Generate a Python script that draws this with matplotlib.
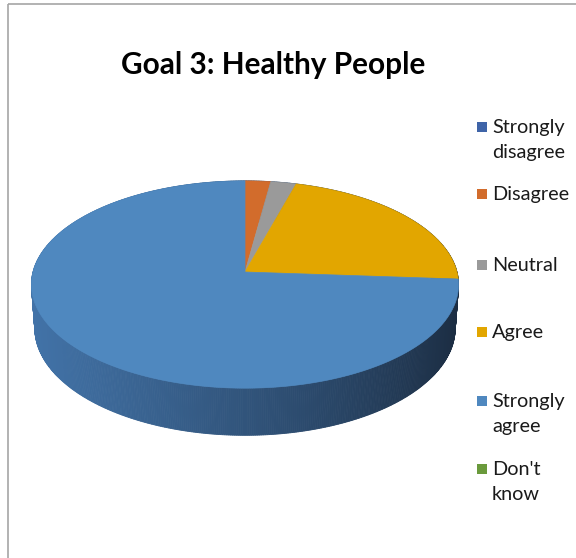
import numpy as np
import matplotlib
matplotlib.use("Agg")
import matplotlib.pyplot as plt
from matplotlib.patches import Polygon, Rectangle
from matplotlib.colors import to_rgb

# Survey responses
categories = ["Strongly\ndisagree", "Disagree", "Neutral", "Agree", "Strongly\nagree", "Don't\nknow"]
counts = [0, 1, 1, 10, 34, 0]
slice_colors = ["#3f64a8", "#d26c2c", "#9a9a9a", "#e2a600", "#4f88bf", "#6a9a3c"]
title = "Goal 3: Healthy People"

# 3d pie geometry (pixel space of the figure)
cx, cy = 245, 272
phi = np.radians(28.8)
dist = 7.25
focal = 1537
thick = 0.237


def project(x, y, z):
    s, c = np.sin(phi), np.cos(phi)
    depth = dist + y * c - z * s
    u = x * focal / depth
    v = (y * s + z * c) * focal / depth
    return cx + u, cy - v, depth


fig = plt.figure(figsize=(5.76, 5.58), dpi=100)
ax = fig.add_axes([0, 0, 1, 1])
ax.set_xlim(0, 576)
ax.set_ylim(558, 0)
ax.axis("off")

# chart frame
ax.add_patch(Rectangle((7.5, 3.5), 600, 600, fill=False, ec="#a6a6a6", lw=1.2))

fracs = np.array(counts, dtype=float) / sum(counts)
edges = np.concatenate([[0], np.cumsum(fracs)]) * 2 * np.pi

# outer wall, drawn back to front with a left-to-right shade
light = np.array(to_rgb("#4273a8"))
dark = np.array(to_rgb("#1b2c41"))
th = np.linspace(0, 2 * np.pi, 721)
quads = []
for a, b in zip(th[:-1], th[1:]):
    xs = np.array([np.sin(a), np.sin(b), np.sin(b), np.sin(a)])
    ys = np.array([np.cos(a), np.cos(b), np.cos(b), np.cos(a)])
    zs = np.array([0, 0, -thick, -thick])
    px, py, d = project(xs, ys, zs)
    xm = (np.sin(a) + np.sin(b)) / 2
    t = np.clip((xm + 1) / 2, 0, 1) ** 1.2
    col = light * (1 - t) + dark * t
    quads.append((d.mean(), np.column_stack([px, py]), col))
quads.sort(key=lambda q: -q[0])
for _, pts, col in quads:
    ax.add_patch(Polygon(pts, closed=True, fc=col, ec=col, lw=0.6))

# top faces
for i, frac in enumerate(fracs):
    if frac == 0:
        continue
    t = np.linspace(edges[i], edges[i + 1], 200)
    xs = np.concatenate([[0], np.sin(t)])
    ys = np.concatenate([[0], np.cos(t)])
    px, py, _ = project(xs, ys, np.zeros_like(xs))
    ax.add_patch(Polygon(np.column_stack([px, py]), closed=True,
                         fc=slice_colors[i], ec=slice_colors[i], lw=0.5))

ax.text(273, 65, title, ha="center", va="center", fontsize=21.4,
        fontweight="bold", family="Lato", color="black")

# legend
leg_y = [127, 194, 265, 332, 401, 469]
for lab, col, y in zip(categories, slice_colors, leg_y):
    ax.add_patch(Rectangle((477, y - 5), 10, 10, fc=col, ec="none"))
    ax.text(492, y - 8, lab, ha="left", va="top", fontsize=14.3,
            family="Lato", color="#1a1a1a", linespacing=1.6)

fig.savefig("out.png", dpi=100)
